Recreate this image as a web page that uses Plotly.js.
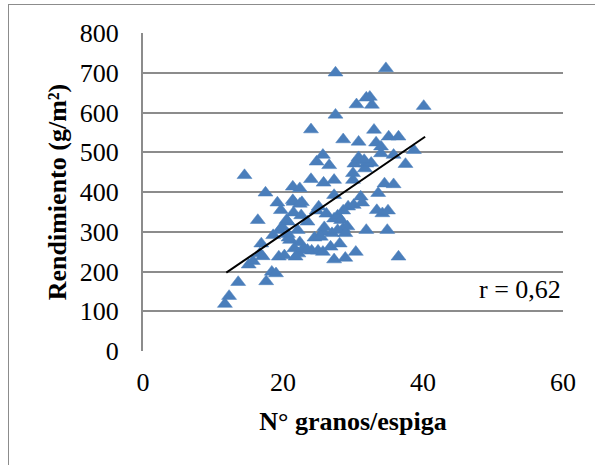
<!DOCTYPE html>
<html>
<head>
<meta charset="utf-8">
<script src="https://cdn.plot.ly/plotly-3.0.1.min.js"></script>
<style>
  html, body { margin: 0; padding: 0; background: #fff; }
  #wrap { position: relative; width: 595px; height: 465px; overflow: hidden; }
  #chart { position: absolute; left: 0; top: 0; width: 595px; height: 465px; }
  #frame { position: absolute; left: 8px; top: 4px; width: 620px; height: 500px; border: 1px solid #8c8c8c; pointer-events: none; }
</style>
</head>
<body>
<div id="wrap">
  <div id="chart"></div>
  <div id="frame"></div>
</div>
<script>
// Nº granos/espiga (x) and Rendimiento g/m2 (y)
const granos = [11.7, 12.3, 13.6, 14.5, 15.1, 15.7, 16.4, 16.9, 16.7, 17.1, 17.5, 17.6, 18.4, 19.0, 19.2,
  19.7, 19.5, 19.4, 20.2, 19.9, 20.7, 20.8, 21.0, 21.4, 22.4, 21.5, 21.5, 22.7, 22.1, 22.4,
  22.2, 22.9, 23.5, 24.1, 24.0, 24.0, 24.5, 24.8, 24.8, 25.0, 25.7, 25.8, 25.7, 25.9, 25.7,
  26.2, 26.6, 26.8, 27.0, 27.3, 27.3, 27.3, 27.3, 27.5, 27.5, 27.8, 28.1, 28.3, 28.6, 28.6,
  28.6, 28.9, 29.2, 29.3, 30.0, 30.0, 30.1, 30.4, 30.5, 30.2, 30.8, 30.9, 31.1, 31.3, 31.9,
  32.4, 32.7, 31.9, 31.7, 31.9, 32.6, 33.0, 33.3, 33.4, 33.6, 34.0, 34.0, 34.2, 34.5, 34.7,
  34.9, 35.0, 35.1, 35.8, 35.8, 36.5, 36.5, 37.5, 38.7, 40.1,
  18.6, 20.7, 21.6, 21.8, 23.5, 25.4, 27.8, 28.9, 30.8, 31.6, 21.4, 22.6, 20.5, 25.1, 22.4];
const rendimiento = [118, 138, 173, 442, 217, 226, 329, 270, 245, 238, 398, 175, 199, 195, 373,
  354, 304, 237, 240, 312, 325, 285, 279, 413, 409, 375, 348, 374, 304, 273,
  245, 258, 325, 252, 557, 432, 285, 353, 476, 252, 493, 423, 300, 311, 249,
  345, 467, 262, 296, 430, 392, 333, 230, 700, 594, 340, 270, 329, 532, 353,
  308, 234, 313, 363, 430, 447, 367, 249, 620, 471, 526, 480, 388, 373, 637,
  639, 619, 471, 459, 304, 473, 556, 524, 354, 397, 514, 497, 346, 421, 711,
  304, 353, 539, 419, 493, 539, 237, 470, 505, 616,
  291, 294, 258, 237, 254, 287, 304, 296, 487, 480, 379, 341, 329, 363, 370];
// Linear trendline endpoints as drawn in the reference
const trendX = [11.9, 40.3];
const trendY = [197, 539];
const xTicks = [0, 20, 40, 60];
const yTicks = [0, 100, 200, 300, 400, 500, 600, 700, 800];
const rLabel = 'r = 0,62';

const serif = 'Liberation Serif, Times New Roman, serif';

const data = [
  {
    x: granos, y: rendimiento, type: 'scatter', mode: 'markers',
    marker: { symbol: 'triangle-up', size: 13, color: '#4a7ebb', line: { width: 0.5, color: '#4a7ebb' } },
    hoverinfo: 'x+y', showlegend: false
  },
  {
    x: trendX, y: trendY, type: 'scatter', mode: 'lines',
    line: { color: '#000000', width: 2 }, showlegend: false, hoverinfo: 'skip'
  }
];

const layout = {
  width: 595, height: 465,
  margin: { l: 143, r: 32, t: 33, b: 114 },
  paper_bgcolor: '#ffffff', plot_bgcolor: '#ffffff',
  font: { family: serif, size: 26, color: '#000' },
  showlegend: false,
  xaxis: {
    range: [0, 60], tickvals: xTicks, ticktext: xTicks.map(String),
    showgrid: false, zeroline: false, showline: false,
    ticks: '', ticklabelstandoff: 13,
    tickfont: { family: serif, size: 26, color: '#000' },
    title: { text: 'N° granos/espiga', font: { family: serif, size: 26, color: '#000', weight: 'bold' }, standoff: 15 }
  },
  yaxis: {
    range: [0, 800], tickvals: yTicks, ticktext: yTicks.map(String),
    showgrid: true, gridcolor: '#8c8c8c', gridwidth: 2,
    zeroline: false, showline: true, linecolor: '#8c8c8c', linewidth: 2,
    ticks: '', ticklabelstandoff: 17,
    tickfont: { family: serif, size: 26, color: '#000' },
    title: { text: 'Rendimiento (g/m²)', font: { family: serif, size: 26, color: '#000', weight: 'bold' }, standoff: 6 }
  },
  annotations: [{
    xref: 'paper', yref: 'y', x: 1, y: 155, xanchor: 'right', yanchor: 'middle',
    text: rLabel, showarrow: false, font: { family: serif, size: 26, color: '#000' }
  }]
};

Plotly.newPlot('chart', data, layout, { displayModeBar: false, staticPlot: true });
</script>
</body>
</html>
